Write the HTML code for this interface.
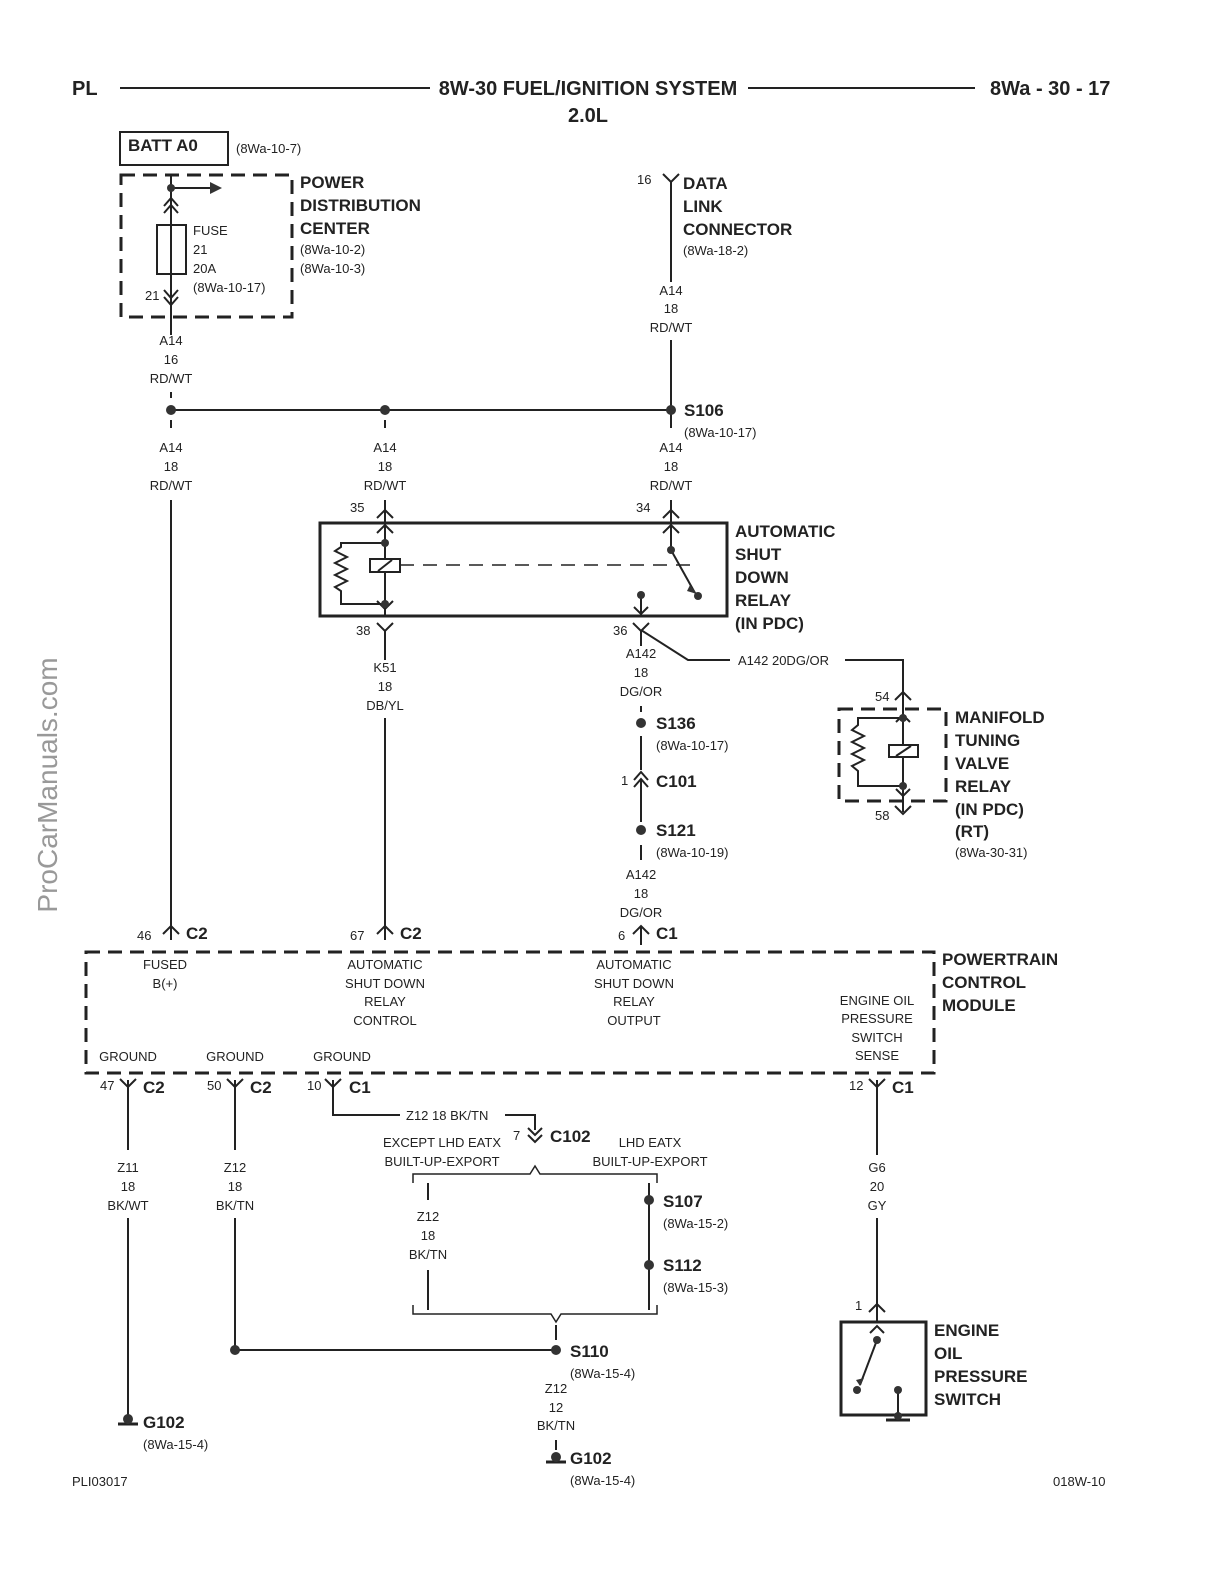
<!DOCTYPE html>
<html><head><meta charset="utf-8"><style>
html,body{margin:0;padding:0;background:#fff;overflow:hidden;width:1224px;height:1584px}
svg{display:block}
text{font-family:"Liberation Sans",sans-serif;fill:#222}
.s{font-size:13px}
.b{font-size:17px;font-weight:bold}
.c{text-anchor:middle}
</style></head><body>
<svg width="1224" height="1584" viewBox="0 0 1224 1584" xmlns="http://www.w3.org/2000/svg">
<g stroke="#222" fill="none" stroke-width="2">
<line x1="120" y1="88" x2="430" y2="88"/><line x1="748" y1="88" x2="975" y2="88"/>
<rect x="120" y="132" width="108" height="33"/>
<rect x="121" y="175" width="171" height="142" stroke-width="3" stroke-dasharray="14,8"/>
<line x1="171" y1="175" x2="171" y2="335"/>
<line x1="171" y1="188" x2="210" y2="188"/>
<polyline points="164,206 171,198 178,206"/><polyline points="164,213 171,205 178,213"/>
<rect x="157" y="225" width="29" height="49"/>
<polyline points="164,290 171,298 178,290"/><polyline points="164,297 171,305 178,297"/>
<line x1="171" y1="392" x2="171" y2="398"/><line x1="171" y1="420" x2="171" y2="428"/>
<line x1="171" y1="410" x2="671" y2="410"/>
<polyline points="663,174 671,182 679,174"/><line x1="671" y1="182" x2="671" y2="282"/>
<line x1="671" y1="340" x2="671" y2="428"/>
<line x1="385" y1="420" x2="385" y2="428"/>
<line x1="171" y1="500" x2="171" y2="940"/>
<line x1="385" y1="500" x2="385" y2="616"/><line x1="671" y1="500" x2="671" y2="550"/>
<polyline points="377,518 385,510 393,518"/><polyline points="663,518 671,510 679,518"/>
<polyline points="377,533 385,525 393,533"/><polyline points="663,533 671,525 679,533"/>
<rect x="320" y="523" width="407" height="93" stroke-width="3"/>
<polyline points="385,543 341,543 341,547 335,551 347,557 335,563 347,569 335,575 347,581 335,587 341,591 341,604 385,604"/>
<rect x="370" y="559" width="30" height="13" fill="#fff"/><line x1="378" y1="571" x2="392" y2="560"/>
<line x1="400" y1="565" x2="690" y2="565" stroke-dasharray="14,9" stroke-width="1.5"/>
<line x1="671" y1="550" x2="695" y2="593"/>
<line x1="641" y1="595" x2="641" y2="616"/><polyline points="634,607 641,614 648,607"/>
<polyline points="377,601 385,609 393,601"/>
<polyline points="377,623 385,631 393,623"/><polyline points="633,623 641,631 649,623"/>
<line x1="385" y1="631" x2="385" y2="660"/><line x1="641" y1="631" x2="641" y2="646"/>
<polyline points="641,630 688,660 730,660"/>
<polyline points="845,660 903,660 903,700"/><polyline points="895,700 903,692 911,700"/>
<line x1="385" y1="718" x2="385" y2="940"/>
<line x1="641" y1="706" x2="641" y2="712"/><line x1="641" y1="736" x2="641" y2="770"/>
<polyline points="634,780 641,772 648,780"/><polyline points="634,787 641,779 648,787"/>
<line x1="641" y1="780" x2="641" y2="822"/>
<line x1="641" y1="845" x2="641" y2="860"/>
<polyline points="633,934 641,926 649,934"/><polyline points="163,934 171,926 179,934"/><polyline points="377,934 385,926 393,934"/>
<line x1="641" y1="926" x2="641" y2="945"/>
<rect x="839" y="709" width="107" height="92" stroke-width="3" stroke-dasharray="14,8"/>
<line x1="903" y1="700" x2="903" y2="812"/>
<polyline points="896,722 903,715 910,722"/><polyline points="896,789 903,796 910,789"/>
<polyline points="903,718 858,718 858,725 852,730 864,736 852,742 864,748 852,754 864,760 852,766 858,771 858,786 903,786"/>
<rect x="889" y="745" width="29" height="12" fill="#fff"/><line x1="896" y1="756" x2="911" y2="746"/>
<polyline points="895,806 903,814 911,806"/>
<rect x="86" y="952" width="848" height="121" stroke-width="3" stroke-dasharray="14,8"/>
<polyline points="120,1079 128,1087 136,1079"/><polyline points="227,1079 235,1087 243,1079"/>
<polyline points="325,1079 333,1087 341,1079"/><polyline points="869,1079 877,1087 885,1079"/>
<line x1="128" y1="1080" x2="128" y2="1150"/><line x1="128" y1="1218" x2="128" y2="1415"/>
<line x1="235" y1="1080" x2="235" y2="1150"/><line x1="235" y1="1218" x2="235" y2="1350"/>
<polyline points="333,1080 333,1115 400,1115"/><polyline points="505,1115 535,1115 535,1130"/>
<polyline points="528,1128 535,1135 542,1128"/><polyline points="528,1135 535,1142 542,1135"/>
<path d="M413,1183 L413,1174 L530,1174 L535,1166 L540,1174 L657,1174 L657,1183" stroke-width="1.5"/>
<line x1="428" y1="1183" x2="428" y2="1200"/><line x1="428" y1="1270" x2="428" y2="1310"/>
<line x1="649" y1="1183" x2="649" y2="1310"/>
<path d="M413,1305 L413,1314 L551,1314 L556,1322 L561,1314 L657,1314 L657,1305" stroke-width="1.5"/>
<line x1="556" y1="1325" x2="556" y2="1340"/>
<line x1="235" y1="1350" x2="556" y2="1350"/>
<line x1="556" y1="1440" x2="556" y2="1450"/>
<line x1="877" y1="1080" x2="877" y2="1155"/><line x1="877" y1="1218" x2="877" y2="1322"/>
<polyline points="869,1312 877,1304 885,1312"/><polyline points="870,1333 877,1326 884,1333"/>
<rect x="841" y="1322" width="85" height="93" stroke-width="3"/>
<line x1="877" y1="1340" x2="860" y2="1385"/>
<line x1="898" y1="1392" x2="898" y2="1418"/><line x1="886" y1="1420" x2="910" y2="1420" stroke-width="3"/>
<line x1="546" y1="1462" x2="566" y2="1462" stroke-width="3"/><line x1="118" y1="1424" x2="138" y2="1424" stroke-width="3"/>
</g>
<g fill="#333">
<polygon points="210,182 222,188 210,194"/>
<circle cx="171" cy="188" r="4"/>
<circle cx="171" cy="410" r="5"/><circle cx="385" cy="410" r="5"/><circle cx="671" cy="410" r="5"/>
<circle cx="385" cy="543" r="4"/><circle cx="385" cy="604" r="4"/><circle cx="671" cy="550" r="4"/>
<circle cx="698" cy="596" r="4"/><circle cx="641" cy="595" r="4"/>
<polygon points="690,585 697,594 687,591"/>
<circle cx="903" cy="718" r="4"/><circle cx="903" cy="786" r="4"/>
<circle cx="641" cy="723" r="5"/><circle cx="641" cy="830" r="5"/>
<circle cx="649" cy="1200" r="5"/><circle cx="649" cy="1265" r="5"/>
<circle cx="556" cy="1350" r="5"/><circle cx="235" cy="1350" r="5"/>
<circle cx="556" cy="1457" r="5"/><circle cx="128" cy="1419" r="5"/>
<circle cx="877" cy="1340" r="4"/><circle cx="857" cy="1390" r="4"/><circle cx="898" cy="1390" r="4"/><circle cx="898" cy="1416" r="4"/>
<polygon points="856,1380 860,1386 864,1378"/>
</g>
<text x="72" y="95" class="b" style="font-size:20px">PL</text>
<text x="588" y="95" class="b c" style="font-size:20px">8W-30 FUEL/IGNITION SYSTEM</text>
<text x="588" y="122" class="b c" style="font-size:20px">2.0L</text>
<text x="990" y="95" class="b" style="font-size:20px">8Wa - 30 - 17</text>
<text x="128" y="151" class="b">BATT A0</text>
<text x="236" y="153" class="s">(8Wa-10-7)</text>
<g class="s"><text x="193" y="235">FUSE</text><text x="193" y="254">21</text><text x="193" y="273">20A</text><text x="193" y="292">(8Wa-10-17)</text><text x="145" y="300">21</text></g>
<g class="b"><text x="300" y="188">POWER</text><text x="300" y="211">DISTRIBUTION</text><text x="300" y="234">CENTER</text></g>
<text x="300" y="254" class="s">(8Wa-10-2)</text><text x="300" y="273" class="s">(8Wa-10-3)</text>
<text x="637" y="184" class="s">16</text>
<g class="b"><text x="683" y="189">DATA</text><text x="683" y="212">LINK</text><text x="683" y="235">CONNECTOR</text></g>
<text x="683" y="255" class="s">(8Wa-18-2)</text>
<g class="s c">
<text x="671" y="295">A14</text><text x="671" y="313">18</text><text x="671" y="332">RD/WT</text>
<text x="171" y="345">A14</text><text x="171" y="364">16</text><text x="171" y="383">RD/WT</text>
<text x="171" y="452">A14</text><text x="171" y="471">18</text><text x="171" y="490">RD/WT</text>
<text x="385" y="452">A14</text><text x="385" y="471">18</text><text x="385" y="490">RD/WT</text>
<text x="671" y="452">A14</text><text x="671" y="471">18</text><text x="671" y="490">RD/WT</text>
<text x="385" y="672">K51</text><text x="385" y="691">18</text><text x="385" y="710">DB/YL</text>
<text x="641" y="658">A142</text><text x="641" y="677">18</text><text x="641" y="696">DG/OR</text>
<text x="641" y="879">A142</text><text x="641" y="898">18</text><text x="641" y="917">DG/OR</text>
<text x="165" y="969">FUSED</text><text x="165" y="988">B(+)</text>
<text x="385" y="969">AUTOMATIC</text><text x="385" y="988">SHUT DOWN</text><text x="385" y="1006">RELAY</text><text x="385" y="1025">CONTROL</text>
<text x="634" y="969">AUTOMATIC</text><text x="634" y="988">SHUT DOWN</text><text x="634" y="1006">RELAY</text><text x="634" y="1025">OUTPUT</text>
<text x="877" y="1005">ENGINE OIL</text><text x="877" y="1023">PRESSURE</text><text x="877" y="1042">SWITCH</text><text x="877" y="1060">SENSE</text>
<text x="128" y="1061">GROUND</text><text x="235" y="1061">GROUND</text><text x="342" y="1061">GROUND</text>
<text x="442" y="1147">EXCEPT LHD EATX</text><text x="442" y="1166">BUILT-UP-EXPORT</text>
<text x="650" y="1147">LHD EATX</text><text x="650" y="1166">BUILT-UP-EXPORT</text>
<text x="128" y="1172">Z11</text><text x="128" y="1191">18</text><text x="128" y="1210">BK/WT</text>
<text x="235" y="1172">Z12</text><text x="235" y="1191">18</text><text x="235" y="1210">BK/TN</text>
<text x="428" y="1221">Z12</text><text x="428" y="1240">18</text><text x="428" y="1259">BK/TN</text>
<text x="877" y="1172">G6</text><text x="877" y="1191">20</text><text x="877" y="1210">GY</text>
<text x="556" y="1393">Z12</text><text x="556" y="1412">12</text><text x="556" y="1430">BK/TN</text>
</g>
<g class="s">
<text x="684" y="437">(8Wa-10-17)</text>
<text x="350" y="512">35</text><text x="636" y="512">34</text>
<text x="356" y="635">38</text><text x="613" y="635">36</text>
<text x="738" y="665">A142   20DG/OR</text>
<text x="875" y="701">54</text><text x="875" y="820">58</text>
<text x="656" y="750">(8Wa-10-17)</text><text x="621" y="785">1</text><text x="656" y="857">(8Wa-10-19)</text>
<text x="955" y="857">(8Wa-30-31)</text>
<text x="137" y="940">46</text><text x="350" y="940">67</text><text x="618" y="940">6</text>
<text x="100" y="1090">47</text><text x="207" y="1090">50</text><text x="307" y="1090">10</text><text x="849" y="1090">12</text>
<text x="406" y="1120">Z12 18    BK/TN</text><text x="513" y="1140">7</text>
<text x="663" y="1228">(8Wa-15-2)</text><text x="663" y="1292">(8Wa-15-3)</text>
<text x="570" y="1378">(8Wa-15-4)</text><text x="143" y="1449">(8Wa-15-4)</text><text x="570" y="1485">(8Wa-15-4)</text>
<text x="855" y="1310">1</text>
<text x="72" y="1486">PLI03017</text><text x="1053" y="1486">018W-10</text>
</g>
<g class="b">
<text x="684" y="416">S106</text>
<text x="735" y="537">AUTOMATIC</text><text x="735" y="560">SHUT</text><text x="735" y="583">DOWN</text><text x="735" y="606">RELAY</text><text x="735" y="629">(IN PDC)</text>
<text x="955" y="723">MANIFOLD</text><text x="955" y="746">TUNING</text><text x="955" y="769">VALVE</text><text x="955" y="792">RELAY</text><text x="955" y="815">(IN PDC)</text><text x="955" y="837">(RT)</text>
<text x="656" y="729">S136</text><text x="656" y="787">C101</text><text x="656" y="836">S121</text>
<text x="186" y="939">C2</text><text x="400" y="939">C2</text><text x="656" y="939">C1</text>
<text x="942" y="965">POWERTRAIN</text><text x="942" y="988">CONTROL</text><text x="942" y="1011">MODULE</text>
<text x="143" y="1093">C2</text><text x="250" y="1093">C2</text><text x="349" y="1093">C1</text><text x="892" y="1093">C1</text>
<text x="550" y="1142">C102</text>
<text x="663" y="1207">S107</text><text x="663" y="1271">S112</text><text x="570" y="1357">S110</text>
<text x="143" y="1428">G102</text><text x="570" y="1464">G102</text>
<text x="934" y="1336">ENGINE</text><text x="934" y="1359">OIL</text><text x="934" y="1382">PRESSURE</text><text x="934" y="1405">SWITCH</text>
</g>
<text transform="translate(57,785) rotate(-90)" class="c" style="font-size:28px;fill:#999">ProCarManuals.com</text>
</svg>
</body></html>
